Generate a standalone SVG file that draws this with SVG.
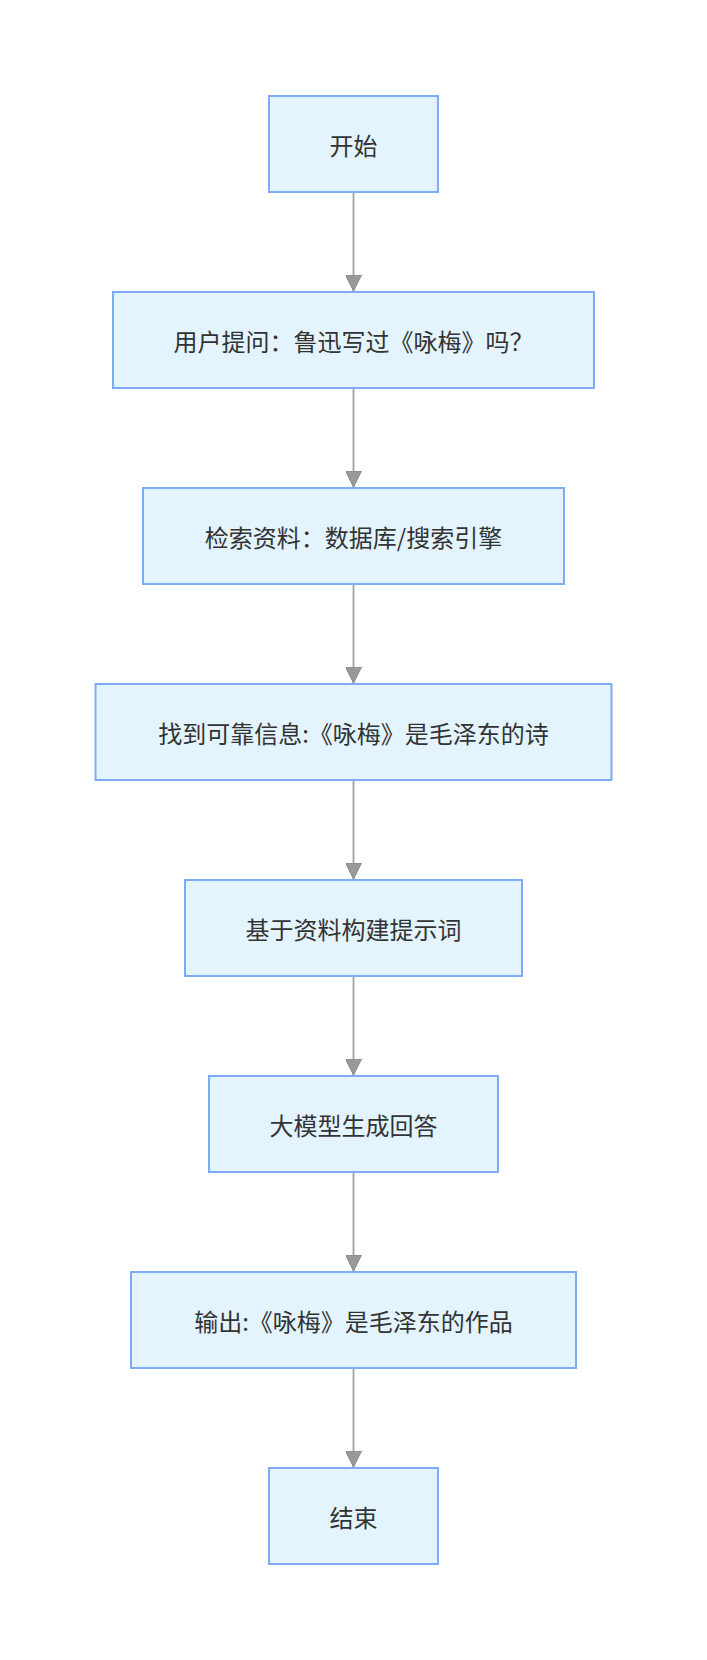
<svg xmlns="http://www.w3.org/2000/svg" width="707" height="1660" viewBox="0 0 707 1660">
<style>
.node rect{fill:#e3f4fe;stroke:#7eabf9;stroke-width:2}
.node text{font-family:"Noto Sans CJK SC","Noto Sans",sans-serif;font-size:24px;fill:#333;text-anchor:middle;dominant-baseline:central}
.edge{stroke:#aaaaaa;stroke-width:2;fill:none}
</style>
<defs>
<marker id="arrow" markerUnits="userSpaceOnUse" markerWidth="16" markerHeight="16" viewBox="0 0 16 16" refX="16" refY="8" orient="auto">
<path d="M0,0 L16,8 L0,16 z" fill="#999999" stroke="#888888" stroke-width="1"/>
</marker>
</defs>
<rect width="707" height="1660" fill="#ffffff"/>
<g id="connectors">
<line class="edge" x1="353.5" y1="192" x2="353.5" y2="291" marker-end="url(#arrow)"/>
<line class="edge" x1="353.5" y1="388" x2="353.5" y2="487" marker-end="url(#arrow)"/>
<line class="edge" x1="353.5" y1="584" x2="353.5" y2="683" marker-end="url(#arrow)"/>
<line class="edge" x1="353.5" y1="780" x2="353.5" y2="879" marker-end="url(#arrow)"/>
<line class="edge" x1="353.5" y1="976" x2="353.5" y2="1075" marker-end="url(#arrow)"/>
<line class="edge" x1="353.5" y1="1172" x2="353.5" y2="1271" marker-end="url(#arrow)"/>
<line class="edge" x1="353.5" y1="1368" x2="353.5" y2="1467" marker-end="url(#arrow)"/>
</g>
<g id="start" class="node"><rect x="269" y="96" width="169" height="96"/><text x="353.5" y="144">开始</text></g>
<g id="question" class="node"><rect x="113" y="292" width="481" height="96"/><text x="353.5" y="340">用户提问：鲁迅写过《咏梅》吗？</text></g>
<g id="retrieve" class="node"><rect x="143" y="488" width="421" height="96"/><text x="353.5" y="536">检索资料：数据库/搜索引擎</text></g>
<g id="found" class="node"><rect x="95.5" y="684" width="516" height="96"/><text x="353.5" y="732">找到可靠信息:《咏梅》是毛泽东的诗</text></g>
<g id="prompt" class="node"><rect x="185" y="880" width="337" height="96"/><text x="353.5" y="928">基于资料构建提示词</text></g>
<g id="generate" class="node"><rect x="209" y="1076" width="289" height="96"/><text x="353.5" y="1124">大模型生成回答</text></g>
<g id="output" class="node"><rect x="131" y="1272" width="445" height="96"/><text x="353.5" y="1320">输出:《咏梅》是毛泽东的作品</text></g>
<g id="end" class="node"><rect x="269" y="1468" width="169" height="96"/><text x="353.5" y="1516">结束</text></g>
</svg>
